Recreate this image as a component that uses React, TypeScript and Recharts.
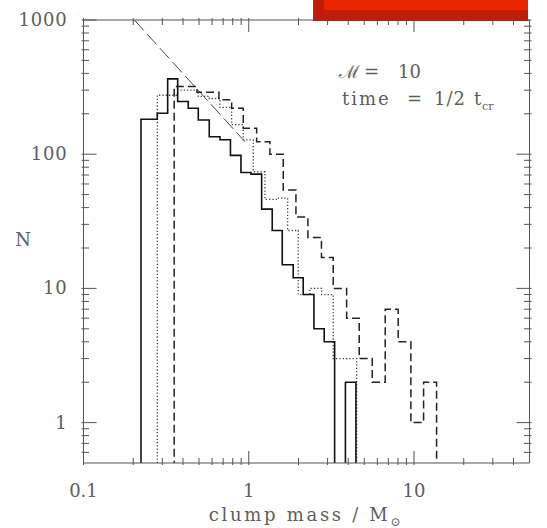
import React from 'react';
import { ComposedChart, Line, XAxis, YAxis } from 'recharts';

const W = 547;
const H = 528;

// bin edges (solar masses) and counts per bin
const solidEdges = [0.2228, 0.2796, 0.3231, 0.3714, 0.4305, 0.495, 0.5768, 0.6694, 0.7749, 0.897, 1.031, 1.197, 1.387, 1.595, 1.858, 2.136, 2.48, 2.862, 3.309, 3.846, 4.452];
const solidCounts = [182, 202, 364, 247, 220, 180, 135, 128, 98, 73, 71, 39, 27, 15, 12, 9, 5, 4, 0, 2];

const dottedEdges = [0.2796, 0.3714, 0.495, 0.5768, 0.6694, 0.788, 0.926, 1.065, 1.253, 1.471, 1.719, 1.993, 2.346, 2.761, 3.245, 3.819, 4.495];
const dottedCounts = [275, 300, 270, 260, 223, 166, 128, 74, 46, 47, 27, 9, 10, 9, 3, 3];

const dashedEdges = [0.3538, 0.486, 0.66, 0.788, 0.926, 1.116, 1.343, 1.617, 1.93, 2.281, 2.754, 3.245, 3.911, 4.662, 5.586, 6.694, 8.025, 9.576, 11.43, 13.7];
const dashedCounts = [320, 290, 254, 220, 156, 124, 100, 54, 34, 24, 17, 10, 6, 3, 2, 7, 4, 1, 2];

// reference power law (slope about -1.35)
const slopeLine = [
  { m: 0.203, n: 1000 },
  { m: 0.948, n: 124 },
];

const xTicks = [0.1, 0.2, 0.3, 0.4, 0.5, 0.6, 0.7, 0.8, 0.9, 1, 2, 3, 4, 5, 6, 7, 8, 9, 10, 20, 30, 40];
const yTicks = [0.6, 0.7, 0.8, 0.9, 1, 2, 3, 4, 5, 6, 7, 8, 9, 10, 20, 30, 40, 50, 60, 70, 80, 90, 100, 200, 300, 400, 500, 600, 700, 800, 900, 1000];
const xMajor = [0.1, 1, 10];
const yMajor = [1, 10, 100, 1000];

// empty bins go below the axis floor and get clipped
const FLOOR = 0.3;

const histPoints = (edges: number[], counts: number[]) => {
  const pts = [{ m: edges[0], n: FLOOR }];
  counts.forEach((c, i) => pts.push({ m: edges[i], n: c > 0 ? c : FLOOR }));
  pts.push({ m: edges[edges.length - 1], n: FLOOR });
  return pts;
};

const solidData = histPoints(solidEdges, solidCounts);
const dottedData = histPoints(dottedEdges, dottedCounts);
const dashedData = histPoints(dashedEdges, dashedCounts);

const FRAME = '#555';
const TEXT = '#5e5e5e';
const FONT = '"DejaVu Serif", serif';

const isMajor = (v: number, list: number[]) => list.some((t) => Math.abs(t - v) < 1e-9);

const BottomTick = (props: any) => {
  const { x, y, payload } = props;
  const major = isMajor(payload.value, xMajor);
  return (
    <g>
      <line x1={x} x2={x} y1={y} y2={y - (major ? 14 : 7)} stroke={FRAME} />
      {major && (
        <text x={x} y={y + 32} textAnchor="middle" fontFamily={FONT} fontSize={18} fill={TEXT}>
          {payload.value}
        </text>
      )}
    </g>
  );
};

const TopTick = (props: any) => {
  const { x, y, payload } = props;
  const major = isMajor(payload.value, xMajor);
  return <line x1={x} x2={x} y1={y} y2={y + (major ? 14 : 7)} stroke={FRAME} />;
};

const LeftTick = (props: any) => {
  const { x, y, payload } = props;
  const major = isMajor(payload.value, yMajor);
  return (
    <g>
      <line x1={x} x2={x + (major ? 15 : 7.5)} y1={y} y2={y} stroke={FRAME} />
      {major && (
        <text x={x - 14} y={y + 6} textAnchor="end" fontFamily={FONT} fontSize={18} fill={TEXT} letterSpacing={0.8}>
          {payload.value}
        </text>
      )}
    </g>
  );
};

const RightTick = (props: any) => {
  const { x, y, payload } = props;
  const major = isMajor(payload.value, yMajor);
  return <line x1={x} x2={x - (major ? 15 : 7.5)} y1={y} y2={y} stroke={FRAME} />;
};

const App = () => {
  return (
    <div style={{ position: 'absolute', left: 0, top: 0, width: W, height: H, background: '#fff' }}>
      <ComposedChart width={W} height={H} margin={{ top: 0, right: 0, bottom: 0, left: 0 }}>
        <XAxis
          xAxisId="b"
          dataKey="m"
          type="number"
          scale="log"
          domain={[0.1, 50]}
          allowDataOverflow
          ticks={xTicks}
          interval={0}
          tick={BottomTick}
          tickLine={false}
          tickSize={0}
          height={65}
          axisLine={{ stroke: FRAME }}
        />
        <XAxis
          xAxisId="t"
          orientation="top"
          dataKey="m"
          type="number"
          scale="log"
          domain={[0.1, 50]}
          allowDataOverflow
          ticks={xTicks}
          interval={0}
          tick={TopTick}
          tickLine={false}
          tickSize={0}
          height={20}
          axisLine={{ stroke: FRAME }}
        />
        <YAxis
          yAxisId="l"
          type="number"
          scale="log"
          domain={[0.5, 1000]}
          allowDataOverflow
          ticks={yTicks}
          interval={0}
          tick={LeftTick}
          tickLine={false}
          tickSize={0}
          width={83.5}
          axisLine={{ stroke: FRAME }}
        />
        <YAxis
          yAxisId="r"
          orientation="right"
          type="number"
          scale="log"
          domain={[0.5, 1000]}
          allowDataOverflow
          ticks={yTicks}
          interval={0}
          tick={RightTick}
          tickLine={false}
          tickSize={0}
          width={17.5}
          axisLine={{ stroke: FRAME }}
        />
        <Line xAxisId="b" yAxisId="l" data={slopeLine} dataKey="n" type="linear" stroke="#444" strokeWidth={1} strokeDasharray="14 5" dot={false} isAnimationActive={false} />
        <Line xAxisId="b" yAxisId="l" data={dottedData} dataKey="n" type="stepAfter" stroke="#444" strokeWidth={1.3} strokeDasharray="1.3 2" dot={false} isAnimationActive={false} />
        <Line xAxisId="b" yAxisId="l" data={dashedData} dataKey="n" type="stepAfter" stroke="#222" strokeWidth={1.5} strokeDasharray="8 4" dot={false} isAnimationActive={false} />
        <Line xAxisId="b" yAxisId="l" data={solidData} dataKey="n" type="stepAfter" stroke="#111" strokeWidth={1.6} dot={false} isAnimationActive={false} />
      </ComposedChart>

      <svg width={W} height={H} style={{ position: 'absolute', left: 0, top: 0, pointerEvents: 'none' }}>
        <g fontFamily={FONT} fill={TEXT}>
          <text x={23} y={246} fontSize={18} textAnchor="middle">N</text>
          <text x={306} y={521} fontSize={18} textAnchor="middle" letterSpacing={2.7} xmlSpace="preserve">
            clump mass / M<tspan fontSize={12} dy={5}>⊙</tspan>
          </text>
          <text y={78} fontSize={18}>
            <tspan x={339}>ℳ</tspan>
            <tspan x={364}>=</tspan>
            <tspan x={398}>10</tspan>
          </text>
          <text y={105} fontSize={18}>
            <tspan x={342} letterSpacing={2}>time</tspan>
            <tspan x={407}>=</tspan>
            <tspan x={434} letterSpacing={1}>1/2</tspan>
            <tspan x={474}>t</tspan>
            <tspan x={482} dy={5} fontSize={11}>cr</tspan>
          </text>
        </g>
      </svg>

      <div style={{ position: 'absolute', left: 313, top: 0, width: 215, height: 21, background: '#bf1d08' }}>
        <div style={{ position: 'absolute', left: 11, top: 0, right: 0, height: 10, background: '#ec2400' }} />
      </div>
    </div>
  );
};

export default App;
